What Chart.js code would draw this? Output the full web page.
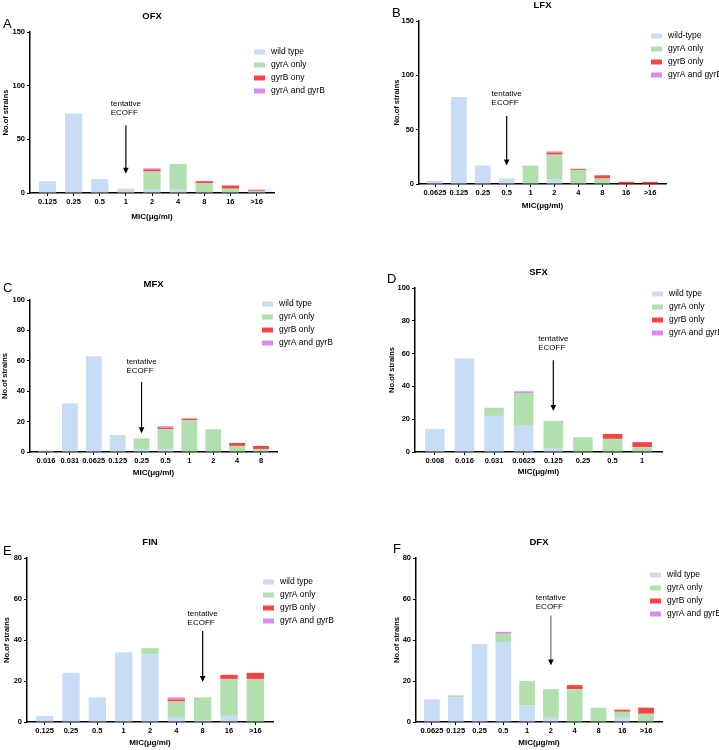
<!DOCTYPE html>
<html>
<head>
<meta charset="utf-8">
<script src="https://cdn.jsdelivr.net/npm/chart.js@4.4.1/dist/chart.umd.min.js"></script>
<style>
  html, body { margin: 0; padding: 0; background: #fff; }
  #wrap { position: relative; width: 719px; height: 750px; }
  #wrap canvas { position: absolute; left: 0; top: 0; }
</style>
</head>
<body>
<div id="wrap">
  <canvas id="cA" width="719" height="750"></canvas>
  <canvas id="cB" width="719" height="750"></canvas>
  <canvas id="cC" width="719" height="750"></canvas>
  <canvas id="cD" width="719" height="750"></canvas>
  <canvas id="cE" width="719" height="750"></canvas>
  <canvas id="cF" width="719" height="750"></canvas>
</div>
<script>
// MIC categories (ug/ml) and number of strains per genotype

const ofxMic = ['0.125', '0.25', '0.5', '1', '2', '4', '8', '16', '>16'];
const ofxWild = [11, 74, 13, 3, 3, 3, 0, 0, 0];
const ofxGyrA = [0, 0, 0, 1, 17, 24, 9, 4, 2];
const ofxGyrB = [0, 0, 0, 0, 2, 0, 2, 3, 1];
const ofxBoth = [0, 0, 0, 0, 1, 0, 0, 0, 0];

const lfxMic = ['0.0625', '0.125', '0.25', '0.5', '1', '2', '4', '8', '16', '>16'];
const lfxWild = [3, 80, 17, 4, 0, 4, 0, 0, 0, 0];
const lfxGyrA = [0, 0, 0, 1, 17, 23, 13, 5, 0, 0];
const lfxGyrB = [0, 0, 0, 0, 0, 2, 1, 3, 2, 2];
const lfxBoth = [0, 0, 0, 0, 0, 1, 0, 0, 0, 0];

const mfxMic = ['0.016', '0.031', '0.0625', '0.125', '0.25', '0.5', '1', '2', '4', '8'];
const mfxWild = [1, 32, 63, 10, 2, 2, 0, 0, 0, 0];
const mfxGyrA = [0, 0, 0, 1, 7, 13, 21, 15, 4, 2];
const mfxGyrB = [0, 0, 0, 0, 0, 1, 1, 0, 2, 2];
const mfxBoth = [0, 0, 0, 0, 0, 1, 0, 0, 0, 0];

const sfxMic = ['0.008', '0.016', '0.031', '0.0625', '0.125', '0.25', '0.5', '1'];
const sfxWild = [14, 57, 22, 16, 2, 0, 0, 0];
const sfxGyrA = [0, 0, 5, 20, 17, 9, 8, 3];
const sfxGyrB = [0, 0, 0, 0, 0, 0, 3, 3];
const sfxBoth = [0, 0, 0, 1, 0, 0, 0, 0];

const finMic = ['0.125', '0.25', '0.5', '1', '2', '4', '8', '16', '>16'];
const finWild = [3, 24, 12, 34, 33, 2, 1, 3, 0];
const finGyrA = [0, 0, 0, 0, 3, 8, 11, 18, 21];
const finGyrB = [0, 0, 0, 0, 0, 1, 0, 2, 3];
const finBoth = [0, 0, 0, 0, 0, 1, 0, 0, 0];

const dfxMic = ['0.0625', '0.125', '0.25', '0.5', '1', '2', '4', '8', '16', '>16'];
const dfxWild = [11, 12, 38, 39, 8, 2, 0, 0, 2, 0];
const dfxGyrA = [0, 1, 0, 4, 12, 14, 16, 7, 3, 4];
const dfxGyrB = [0, 0, 0, 0, 0, 0, 2, 0, 1, 3];
const dfxBoth = [0, 0, 0, 1, 0, 0, 0, 0, 0, 0];

const namesOfx = ['wild type', 'gyrA only', 'gyrB ony', 'gyrA and gyrB'];
const namesLfx = ['wild-type', 'gyrA only', 'gyrB only', 'gyrA and gyrB'];
const namesStd = ['wild type', 'gyrA only', 'gyrB only', 'gyrA and gyrB'];

const colors = ['#c8ddf5', '#b1dfae', '#f74444', '#de88f1'];
const FAM = '"Liberation Sans", Arial, sans-serif';
Chart.defaults.font.family = FAM;

// layout of each panel (pixels on the page)
const panels = [
  { id: 'cA', title: 'OFX', letter: 'A', mic: ofxMic, series: [ofxWild, ofxGyrA, ofxGyrB, ofxBoth], names: namesOfx,
    ymax: 150, step: 50, area: [30, 32, 274, 193], yTitle: 24.5, xTitle: 24,
    letterPos: [3, 28], legendPos: [254, 52], ecoff: { index: 3, from: 63, to: 18, gap: 13 } },
  { id: 'cB', title: 'LFX', letter: 'B', mic: lfxMic, series: [lfxWild, lfxGyrA, lfxGyrB, lfxBoth], names: namesLfx,
    ymax: 150, step: 50, area: [419, 21, 666, 184], yTitle: 22, xTitle: 22,
    letterPos: [392, 17], legendPos: [651, 36], ecoff: { index: 3, from: 62.5, to: 17, gap: 13 } },
  { id: 'cC', title: 'MFX', letter: 'C', mic: mfxMic, series: [mfxWild, mfxGyrA, mfxGyrB, mfxBoth], names: namesStd,
    ymax: 100, step: 20, area: [30, 300, 277, 452], yTitle: 25, xTitle: 21,
    letterPos: [3, 292], legendPos: [262, 304], ecoff: { index: 4, from: 46, to: 12.3, gap: 11 } },
  { id: 'cD', title: 'SFX', letter: 'D', mic: sfxMic, series: [sfxWild, sfxGyrA, sfxGyrB, sfxBoth], names: namesStd,
    ymax: 100, step: 20, area: [415, 288, 662, 452], yTitle: 23, xTitle: 20,
    letterPos: [387, 283], legendPos: [652, 294], ecoff: { index: 4, from: 56, to: 25, gap: 12 } },
  { id: 'cE', title: 'FIN', letter: 'E', mic: finMic, series: [finWild, finGyrA, finGyrB, finBoth], names: namesStd,
    ymax: 80, step: 20, area: [27, 558, 273, 722], yTitle: 20, xTitle: 21,
    letterPos: [3, 555], legendPos: [263, 582], ecoff: { index: 6, from: 44.4, to: 19.5, gap: 8 } },
  { id: 'cF', title: 'DFX', letter: 'F', mic: dfxMic, series: [dfxWild, dfxGyrA, dfxGyrB, dfxBoth], names: namesStd,
    ymax: 80, step: 20, area: [416, 558, 662, 722], yTitle: 19, xTitle: 21,
    letterPos: [393, 553], legendPos: [650, 575], ecoff: { index: 5, from: 52, to: 27.6, gap: 9, color: '#777' } }
];

// title, panel letter, legend and the ECOFF arrow
const panelDeco = {
  id: 'panelDeco',
  afterDraw(chart, args, o) {
    const { ctx, chartArea: a, scales: { x, y } } = chart;
    ctx.save();
    ctx.fillStyle = '#000';
    ctx.font = 'bold 9.5px ' + FAM;
    ctx.textAlign = 'center';
    ctx.textBaseline = 'middle';
    ctx.fillText(o.title, (a.left + a.right) / 2, a.top - 16);

    ctx.font = '13px ' + FAM;
    ctx.textAlign = 'left';
    ctx.textBaseline = 'alphabetic';
    ctx.fillText(o.letter, o.letterPos[0], o.letterPos[1]);

    ctx.font = '8.5px ' + FAM;
    ctx.textBaseline = 'middle';
    chart.data.datasets.forEach((ds, i) => {
      const ly = o.legendPos[1] + i * 13;
      ctx.fillStyle = ds.backgroundColor;
      ctx.fillRect(o.legendPos[0], ly - 2.5, 11, 5);
      ctx.fillStyle = '#000';
      ctx.fillText(ds.label, o.legendPos[0] + 17, ly);
    });

    const e = o.ecoff;
    const ax = x.getPixelForValue(e.index);
    const y0 = y.getPixelForValue(e.from);
    const y1 = y.getPixelForValue(e.to);
    const col = e.color || '#000';
    ctx.strokeStyle = col;
    ctx.lineWidth = 1.2;
    ctx.beginPath();
    ctx.moveTo(ax, y0);
    ctx.lineTo(ax, y1 - 5);
    ctx.stroke();
    ctx.fillStyle = '#000';
    ctx.beginPath();
    ctx.moveTo(ax - 2.8, y1 - 6);
    ctx.lineTo(ax + 2.8, y1 - 6);
    ctx.lineTo(ax, y1);
    ctx.closePath();
    ctx.fill();

    ctx.font = '8px ' + FAM;
    const tx = ax - ctx.measureText('tentative').width / 2;
    ctx.fillText('tentative', tx, y0 - e.gap - 9);
    ctx.fillText('ECOFF', tx, y0 - e.gap);
    ctx.restore();
  }
};

const tickFont = { size: 7.5, weight: 'bold', family: FAM };

panels.forEach(p => {
  const [L, T, R, B] = p.area;
  const yW = p.yTitle + 4.5;
  const xH = 30;
  const n = p.mic.length;
  new Chart(document.getElementById(p.id), {
    type: 'bar',
    data: {
      datasets: p.series.map((vals, i) => ({
        label: p.names[i],
        data: vals.map((v, k) => ({ x: k, y: v })),
        backgroundColor: colors[i],
        borderWidth: 0,
        barPercentage: 0.66,
        categoryPercentage: 1
      }))
    },
    options: {
      responsive: false,
      animation: false,
      devicePixelRatio: 1,
      layout: { padding: { left: L - yW, top: T, right: 719 - R, bottom: 750 - B - xH } },
      plugins: {
        legend: { display: false },
        tooltip: { enabled: false },
        panelDeco: p
      },
      scales: {
        x: {
          type: 'linear',
          stacked: true,
          offset: false,
          min: -0.67,
          max: n - 1 + 0.67,
          afterBuildTicks: s => { s.ticks = p.mic.map((m, i) => ({ value: i })); },
          afterFit: s => { s.height = xH; },
          ticks: { callback: v => p.mic[v], font: tickFont, color: '#000', padding: 1.5, maxRotation: 0, autoSkip: false },
          grid: { offset: false, drawOnChartArea: false, tickLength: 3, color: '#000', lineWidth: 1 },
          border: { color: '#000', width: 1.5 },
          title: { display: true, text: 'MIC(μg/ml)', color: '#000', font: { size: 8, weight: 'bold', family: FAM },
                   padding: { top: 0, bottom: xH - 4.8 - p.xTitle } }
        },
        y: {
          stacked: true,
          min: 0,
          max: p.ymax,
          afterFit: s => { s.width = yW; },
          ticks: { stepSize: p.step, font: tickFont, color: '#000', padding: 2 },
          grid: { drawOnChartArea: false, tickLength: 3, color: '#000', lineWidth: 1 },
          border: { color: '#000', width: 1.5 },
          title: { display: true, text: 'No.of strains', color: '#000', font: { size: 7.5, weight: 'bold', family: FAM },
                   padding: { top: 0, bottom: 0 } }
        }
      }
    },
    plugins: [panelDeco]
  });
});
</script>
</body>
</html>
